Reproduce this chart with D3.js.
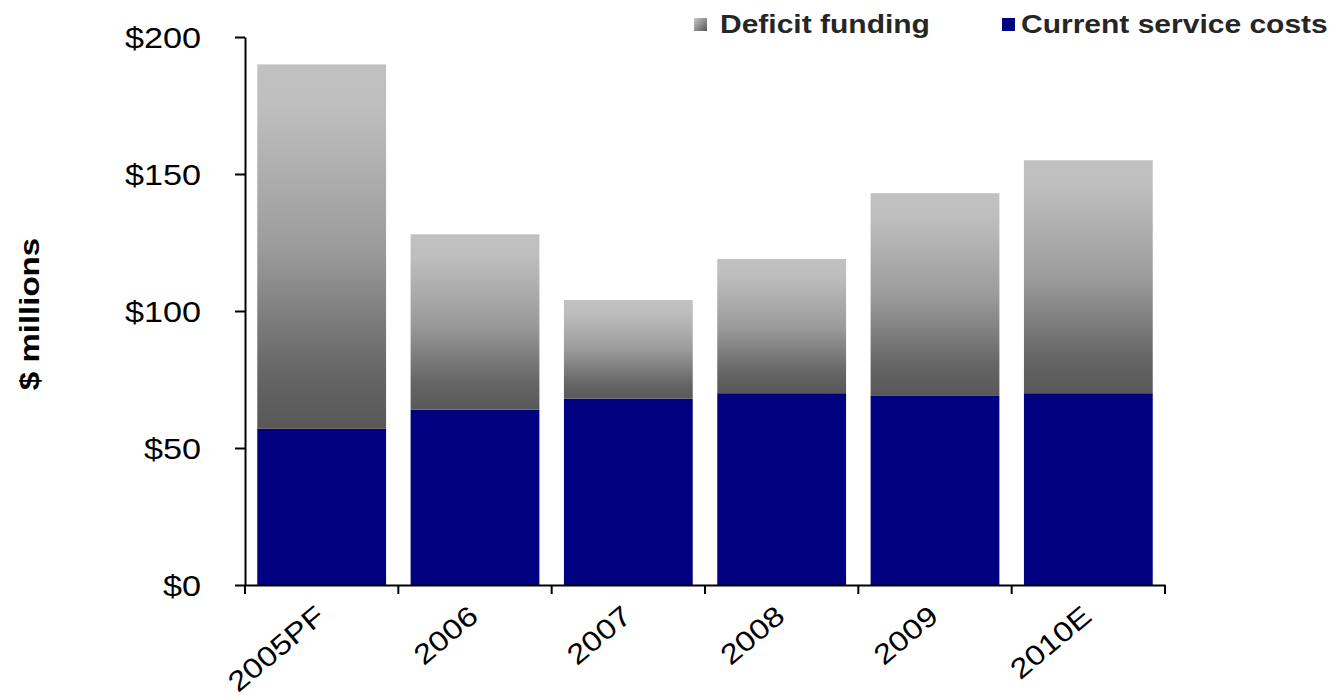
<!DOCTYPE html>
<html>
<head>
<meta charset="utf-8">
<script src="https://cdn.jsdelivr.net/npm/d3@7"></script>
<style>
  body { margin: 0; background: #ffffff; }
  svg { display: block; }
  text { font-family: "Liberation Sans", Arial, Helvetica, sans-serif; }
</style>
</head>
<body>
<svg id="chart" width="1334" height="698"></svg>
<script>
// Pension cost breakdown, $ millions
const categories = ["2005PF", "2006", "2007", "2008", "2009", "2010E"];
const currentServiceCosts = [57, 64, 68, 70, 69, 70];
const deficitFunding = [133, 64, 36, 49, 74, 85];
const yTickValues = [0, 50, 100, 150, 200];
const seriesKeys = ["current", "deficit"];
const legendLabels = ["Deficit funding", "Current service costs"];

const TEXT_STRETCH = 1.18;

const svg = d3.select("#chart");

const x = d3.scaleBand()
  .domain(categories)
  .range([245, 1165])
  .paddingInner(0.16)
  .paddingOuter(0.08);

const y = d3.scaleLinear()
  .domain([0, 200])
  .range([585, 37]);

// Vertical grey gradient for the deficit segments
const defs = svg.append("defs");
const grad = defs.append("linearGradient")
  .attr("id", "deficitGrad")
  .attr("x1", 0).attr("y1", 0).attr("x2", 0).attr("y2", 1);
[[0, "#c1c1c1"], [0.12, "#bebebe"], [0.5, "#9c9c9c"], [0.85, "#656565"], [1, "#585858"]]
  .forEach(([o, c]) => grad.append("stop").attr("offset", o).attr("stop-color", c));

const legendGrad = defs.append("linearGradient")
  .attr("id", "legendGrad")
  .attr("x1", 0).attr("y1", 0).attr("x2", 1).attr("y2", 1);
[[0, "#c8c8c8"], [1, "#555555"]]
  .forEach(([o, c]) => legendGrad.append("stop").attr("offset", o).attr("stop-color", c));

const fills = { current: "#000080", deficit: "url(#deficitGrad)" };

const rows = categories.map((c, i) => ({
  cat: c,
  current: currentServiceCosts[i],
  deficit: deficitFunding[i]
}));

const stacked = d3.stack().keys(seriesKeys)(rows);

svg.append("g")
  .selectAll("g")
  .data(stacked)
  .join("g")
  .attr("fill", d => fills[d.key])
  .selectAll("rect")
  .data(d => d)
  .join("rect")
  .attr("x", d => x(d.data.cat))
  .attr("width", x.bandwidth())
  .attr("y", d => y(d[1]))
  .attr("height", d => y(d[0]) - y(d[1]));

// Y axis
const yAxis = svg.append("g")
  .attr("transform", "translate(245,0)")
  .call(d3.axisLeft(y).tickValues(yTickValues).tickSize(10).tickSizeOuter(0)
    .tickFormat(d => "$" + d));
yAxis.select(".domain").attr("stroke", "#000").attr("stroke-width", 2);
yAxis.selectAll(".tick line").attr("stroke", "#000").attr("stroke-width", 2);
yAxis.selectAll(".tick text")
  .attr("x", 0)
  .attr("dy", "0.35em")
  .attr("fill", "#000")
  .attr("font-size", 29)
  .attr("font-family", "Liberation Sans, Arial, sans-serif")
  .attr("text-anchor", "end")
  .attr("transform", `translate(-44,0) scale(${TEXT_STRETCH},1)`);

// X axis: labels at band centres, ticks at band boundaries
const xAxis = svg.append("g")
  .attr("transform", "translate(0,585)")
  .call(d3.axisBottom(x).tickSize(0).tickSizeOuter(0));
xAxis.select(".domain").attr("stroke", "#000").attr("stroke-width", 2);
xAxis.selectAll(".tick text")
  .attr("x", 0)
  .attr("y", 0)
  .attr("dy", 0)
  .attr("fill", "#000")
  .attr("font-size", 28)
  .attr("font-family", "Liberation Sans, Arial, sans-serif")
  .attr("text-anchor", "end")
  .attr("transform", `translate(5,34) rotate(-40) scale(${TEXT_STRETCH},1)`);

const halfGap = x.step() * x.paddingInner() / 2;
const boundaries = categories.map(c => x(c) - halfGap)
  .concat([x(categories[categories.length - 1]) + x.bandwidth() + halfGap]);
xAxis.selectAll(".boundary")
  .data(boundaries)
  .join("line")
  .attr("class", "boundary")
  .attr("x1", d => d).attr("x2", d => d)
  .attr("y1", 0).attr("y2", 9)
  .attr("stroke", "#000")
  .attr("stroke-width", 2);

// Y axis title
svg.append("text")
  .attr("transform", `translate(29,314) rotate(-90) scale(${TEXT_STRETCH},1)`)
  .attr("text-anchor", "middle")
  .attr("dy", "0.35em")
  .attr("font-size", 28)
  .attr("font-weight", "bold")
  .attr("fill", "#000")
  .text("$ millions");

// Legend
const legendItems = [
  { label: legendLabels[0], fill: "url(#legendGrad)", sx: 694, tx: 720 },
  { label: legendLabels[1], fill: fills.current, sx: 1002, tx: 1021 }
];
const legend = svg.append("g");
legend.selectAll("rect")
  .data(legendItems)
  .join("rect")
  .attr("x", d => d.sx)
  .attr("y", 18)
  .attr("width", 13)
  .attr("height", 13)
  .attr("fill", d => d.fill);
legend.selectAll("text")
  .data(legendItems)
  .join("text")
  .attr("transform", d => `translate(${d.tx},33) scale(1.2,1)`)
  .attr("font-size", 25)
  .attr("font-weight", "bold")
  .attr("fill", "#262626")
  .text(d => d.label);
</script>
</body>
</html>
